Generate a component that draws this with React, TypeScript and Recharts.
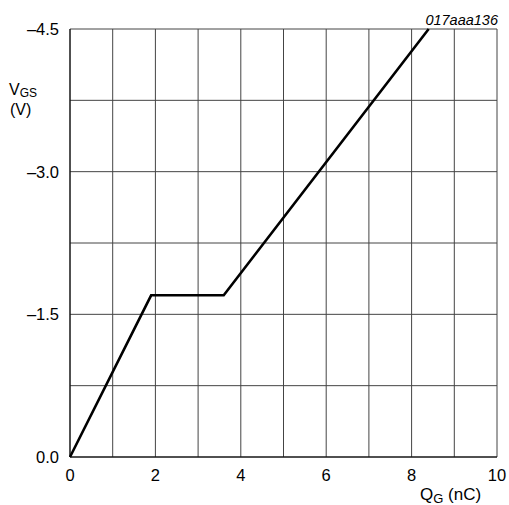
import React from "react";
import { LineChart, Line, XAxis, YAxis, CartesianGrid } from "recharts";

const qg = [0, 1.9, 3.6, 8.4];
const vgs = [0, -1.7, -1.7, -4.5];
const xTicks = [0, 1, 2, 3, 4, 5, 6, 7, 8, 9, 10];
const yTicks = [0, -0.75, -1.5, -2.25, -3.0, -3.75, -4.5];
const yLabels: Record<string, string> = { "0": "0.0", "-1.5": "–1.5", "-3": "–3.0", "-4.5": "–4.5" };

const data = qg.map((q, i) => ({ q, v: vgs[i] }));
const FONT = "'Liberation Sans', Arial, sans-serif";

const XTick = (props: any) => {
  const { x, y, payload } = props;
  if (payload.value % 2 !== 0) return null;
  return (
    <text x={x} y={y + 16} textAnchor="middle" fontFamily={FONT} fontSize={16.5} fill="#000">
      {payload.value}
    </text>
  );
};

const YTick = (props: any) => {
  const { x, y, payload } = props;
  const lbl = yLabels[String(payload.value)];
  if (!lbl) return null;
  return (
    <text x={x - 3} y={y + 6} textAnchor="end" fontFamily={FONT} fontSize={16.5} fill="#000">
      {lbl}
    </text>
  );
};

export default function App() {
  return (
    <div style={{ position: "absolute", left: 0, top: 0, width: 509, height: 505, background: "#fff" }}>
      <LineChart width={509} height={505} data={data} margin={{ top: 29, right: 12, left: 0, bottom: 0 }}>
        <CartesianGrid stroke="#444" strokeWidth={1} />
        <XAxis
          dataKey="q"
          type="number"
          domain={[0, 10]}
          ticks={xTicks}
          interval={0}
          height={48}
          tick={<XTick />}
          tickLine={false}
          axisLine={{ stroke: "#000" }}
        />
        <YAxis
          type="number"
          domain={[-4.5, 0]}
          reversed
          ticks={yTicks}
          interval={0}
          width={70}
          tick={<YTick />}
          tickLine={false}
          axisLine={{ stroke: "#000" }}
        />
        <Line
          dataKey="v"
          type="linear"
          stroke="#000"
          strokeWidth={2.6}
          dot={false}
          isAnimationActive={false}
        />
      </LineChart>
      <svg width={509} height={505} style={{ position: "absolute", left: 0, top: 0, pointerEvents: "none" }}>
        <text x={498} y={25} textAnchor="end" fontFamily={FONT} fontSize={14.5} fontStyle="italic" fill="#000">
          017aaa136
        </text>
        <text x={9} y={95} fontFamily={FONT} fontSize={16} fill="#000">
          V<tspan fontSize={12} dy={2}>GS</tspan>
        </text>
        <text x={10} y={115} fontFamily={FONT} fontSize={16} fill="#000">
          (V)
        </text>
        <text x={420} y={500} fontFamily={FONT} fontSize={17} fill="#000">
          Q<tspan fontSize={13} dy={3}>G</tspan>
          <tspan dy={-3} fontSize={17}> (nC)</tspan>
        </text>
      </svg>
    </div>
  );
}
